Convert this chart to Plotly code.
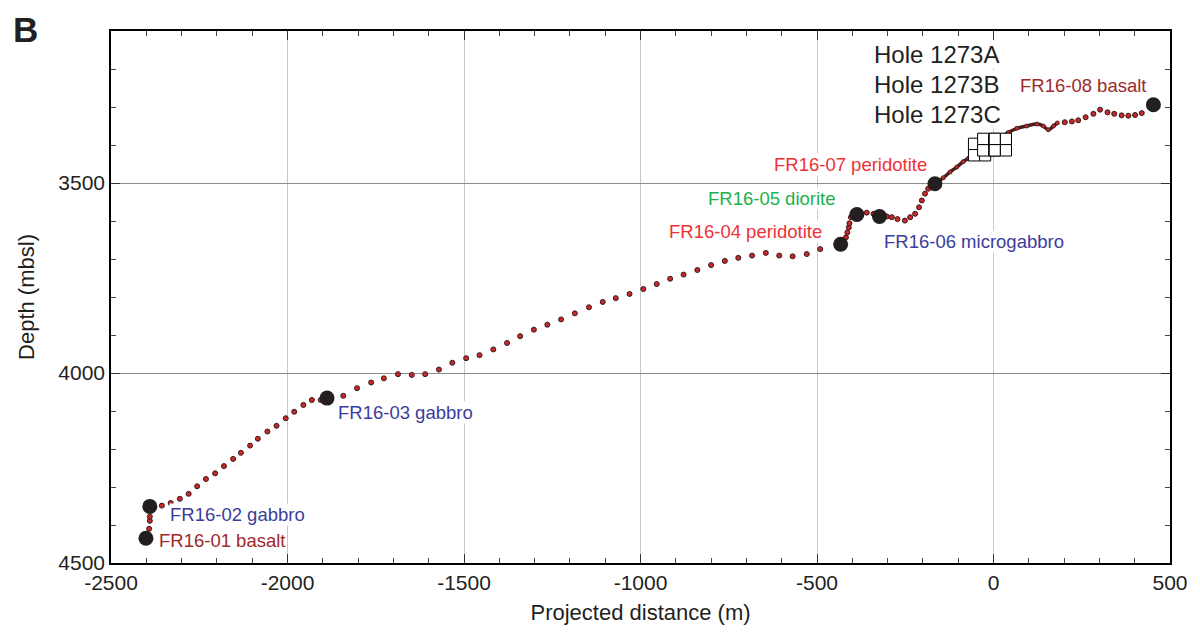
import plotly.graph_objects as go

FONT = "Liberation Sans, Arial, Helvetica, sans-serif"

# ---------------- data ----------------
sample_names = ["FR16-01 basalt", "FR16-02 gabbro", "FR16-03 gabbro", "FR16-04 peridotite",
                "FR16-05 diorite", "FR16-06 microgabbro", "FR16-07 peridotite", "FR16-08 basalt"]
sample_x = [-2401, -2390, -1888, -433, -387, -323, -166, 453]
sample_y = [4435, 4351, 4066, 3661, 3583, 3588, 3502, 3294]
sample_colors = ["#9e2a2b", "#3a3d9b", "#3a3d9b", "#ed3237",
                 "#1db14b", "#3a3d9b", "#ed3237", "#9e2a2b"]

# dotted submersible track (sparse dots)
track_x = [-2392, -2390, -2390, -2356, -2331, -2305, -2280, -2256, -2231, -2205, -2180,
           -2154, -2132, -2106, -2084, -2057, -2031, -2005, -1981, -1955, -1931, -1906,
           -1842, -1803, -1763, -1727, -1687, -1648, -1610, -1571, -1533, -1494, -1456,
           -1417, -1378, -1341, -1302, -1264, -1225, -1186, -1146, -1107, -1070, -1031,
           -992, -954, -916, -878, -839, -800, -761, -723, -684, -645, -607, -569, -529,
           -491, -418, -414, -410, -408, -404, -359, -340, -302, -288, -272, -251, -236,
           -222, -211, -203, -194, -185, 202, 222, 240, 261, 283, 302, 323, 342, 363, 382,
           401, 420]
track_y = [4410, 4389, 4378, 4349, 4342, 4331, 4318, 4298, 4279, 4264, 4245,
           4226, 4210, 4191, 4173, 4154, 4139, 4119, 4102, 4084, 4071, 4071,
           4060, 4040, 4025, 4014, 4003, 4005, 4003, 3991, 3973, 3961, 3953,
           3938, 3921, 3903, 3886, 3873, 3859, 3843, 3827, 3813, 3803, 3792,
           3779, 3766, 3752, 3741, 3729, 3716, 3705, 3697, 3691, 3684, 3691, 3693, 3687,
           3674, 3643, 3630, 3617, 3606, 3590, 3578, 3581, 3588, 3590, 3595, 3599, 3590,
           3581, 3564, 3546, 3528, 3515, 3340, 3338, 3335, 3327, 3318, 3307, 3314, 3318,
           3322, 3323, 3321, 3316]

# dense part of the track near the holes
dense_x = [-166, -142, -123, -104, -86, -71, 42, 66, 94, 123, 141, 155, 170, 181]
dense_y = [3502, 3486, 3471, 3458, 3444, 3435, 3367, 3356, 3350, 3345, 3350, 3360, 3350, 3342]

# drilled holes (2x2 cell grids), drawn in this order
hole_left = [-71, -45, -12]
hole_top = [3382, 3369, 3369]
cell_w = 31.5
cell_h = 30
hole_names = ["Hole 1273A", "Hole 1273B", "Hole 1273C"]

x_tick_vals = [-2500, -2000, -1500, -1000, -500, 0, 500]
x_tick_text = ["-2500", "-2000", "-1500", "-1000", "-500", "0", "500"]
y_tick_vals = [3500, 4000, 4500]
y_tick_text = ["3500", "4000", "4500"]

# label offsets (pixels) relative to sample points
label_anchor = ["left", "left", "left", "right", "right", "left", "right", "right"]
label_dx = [12, 19, 10, -18, -20, 4, -7, -6]
label_dy = [-2, -8, -14, 13, 16, -25, 19, 19]

# ---------------- figure ----------------
fig = go.Figure()

fig.add_trace(go.Scatter(
    x=track_x, y=track_y, mode="markers",
    marker=dict(size=5, color="#c8282a", line=dict(color="#3a1a1a", width=1)),
    hoverinfo="skip"))

fig.add_trace(go.Scatter(
    x=dense_x, y=dense_y, mode="lines+markers",
    line=dict(color="#4b1e1e", width=3.5, shape="spline"),
    marker=dict(size=4, color="#c8282a", line=dict(color="#3a1a1a", width=0.8)),
    hoverinfo="skip"))

fig.add_trace(go.Scatter(
    x=sample_x, y=sample_y, mode="markers",
    marker=dict(size=15, color="#231f20"),
    text=sample_names, hoverinfo="text"))

shapes = []
for left, top in zip(hole_left, hole_top):
    for i in range(2):
        for j in range(2):
            shapes.append(dict(
                type="rect", xref="x", yref="y",
                x0=left + i * cell_w, x1=left + (i + 1) * cell_w,
                y0=top + j * cell_h, y1=top + (j + 1) * cell_h,
                fillcolor="white", line=dict(color="black", width=1), layer="above"))

annotations = []
for name, x, y, c, anc, dx, dy in zip(sample_names, sample_x, sample_y, sample_colors,
                                      label_anchor, label_dx, label_dy):
    annotations.append(dict(
        x=x, y=y, xref="x", yref="y", text=name, showarrow=False,
        xanchor=anc, yanchor="middle", xshift=dx, yshift=dy,
        font=dict(family=FONT, size=18.5, color=c), bgcolor="white", borderpad=0))

hole_label_y = [3161, 3241, 3320]
for name, y in zip(hole_names, hole_label_y):
    annotations.append(dict(
        x=-341, y=y, xref="x", yref="y", text=name, showarrow=False,
        xanchor="left", yanchor="middle",
        font=dict(family=FONT, size=24, color="#231f20"), bgcolor="white", borderpad=0))

annotations.append(dict(
    x=-0.0935, y=1.042, xref="paper", yref="paper", text="<b>B</b>", showarrow=False,
    xanchor="left", yanchor="top", borderpad=0,
    font=dict(family=FONT, size=35, color="#231f20")))

# the page body adds an 8px offset, so the figure is 8px smaller on each axis
fig.update_layout(
    width=1192, height=625,
    margin=dict(l=103, r=22, t=23, b=65),
    paper_bgcolor="white", plot_bgcolor="white",
    showlegend=False,
    font=dict(family=FONT, color="#231f20"),
    shapes=shapes, annotations=annotations,
    xaxis=dict(
        range=[-2500, 500], tickmode="array", tickvals=x_tick_vals, ticktext=x_tick_text,
        ticks="inside", ticklen=9, tickwidth=1, tickcolor="#333",
        showline=True, linecolor="black", linewidth=1.5, mirror="ticks",
        showgrid=True, gridcolor="#c8c8c8", gridwidth=1, zeroline=False,
        minor=dict(dtick=100, tick0=0, ticks="inside", ticklen=5, tickcolor="#444",
                   showgrid=False),
        tickfont=dict(family=FONT, size=21, color="#231f20"),
        title=dict(text="Projected distance (m)", font=dict(family=FONT, size=22),
                   standoff=12)),
    yaxis=dict(
        range=[4500, 3100], tickmode="array", tickvals=y_tick_vals, ticktext=y_tick_text,
        ticks="inside", ticklen=9, tickwidth=1, tickcolor="#333",
        showline=True, linecolor="black", linewidth=1.5, mirror="ticks",
        showgrid=True, gridcolor="#8c8c8c", gridwidth=1, zeroline=False,
        minor=dict(dtick=100, tick0=0, ticks="inside", ticklen=5, tickcolor="#444",
                   showgrid=False),
        tickfont=dict(family=FONT, size=21, color="#231f20"),
        title=dict(text="Depth (mbsl)", font=dict(family=FONT, size=22), standoff=18)),
)

fig.write_html("out.html")
